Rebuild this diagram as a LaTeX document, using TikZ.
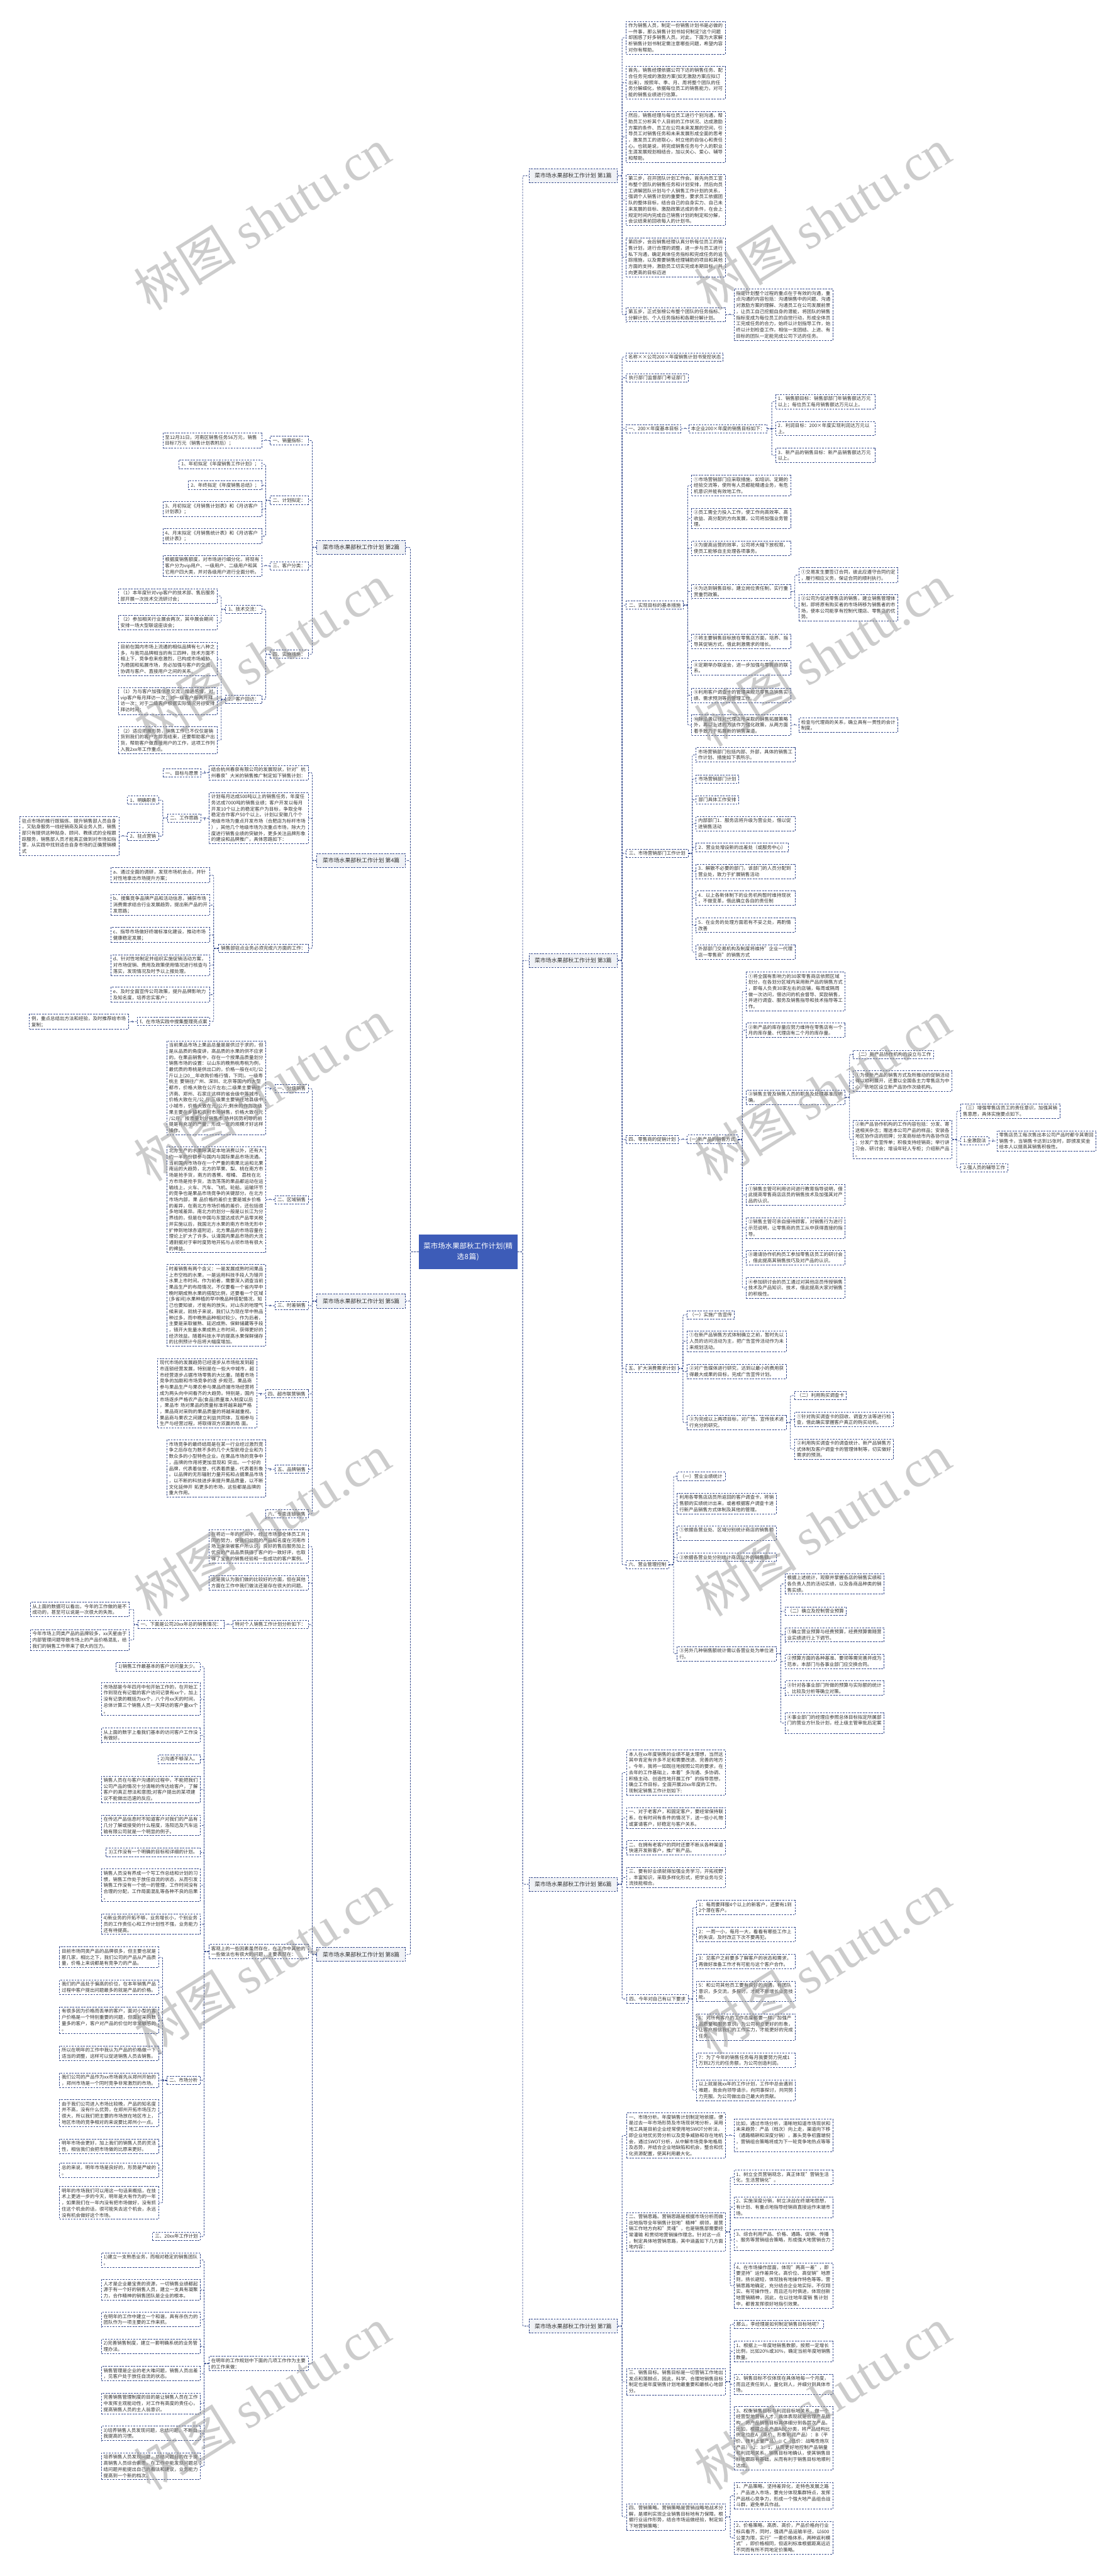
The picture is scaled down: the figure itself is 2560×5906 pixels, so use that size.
\documentclass[tikz,border=0pt]{standalone}
\usepackage{fontspec}
\setmainfont{Noto Sans CJK SC}
\newfontfamily\wmserif{Liberation Serif}
\newfontfamily\wmcjk{Noto Sans CJK SC}
\parindent=0pt
\tolerance=10000
\emergencystretch=6pt
\XeTeXinterchartokenstate=1
\newXeTeXintercharclass\cjkcls
\count255="2460 \loop\XeTeXcharclass\count255=\cjkcls \advance\count255 by 1 \ifnum\count255<"2500 \repeat
\count255="3000 \loop\XeTeXcharclass\count255=\cjkcls \advance\count255 by 1 \ifnum\count255<"3040 \repeat
\count255="4E00 \loop\XeTeXcharclass\count255=\cjkcls \advance\count255 by 1 \ifnum\count255<"A000 \repeat
\count255="FF00 \loop\XeTeXcharclass\count255=\cjkcls \advance\count255 by 1 \ifnum\count255<"FFF0 \repeat
\XeTeXinterchartoks\cjkcls\cjkcls={\hskip0pt plus 0.4pt\relax}
\XeTeXinterchartoks\cjkcls 0={\hskip0pt plus 0.4pt\relax}
\XeTeXinterchartoks 0\cjkcls={\hskip0pt plus 0.4pt\relax}
\definecolor{navy}{RGB}{52,73,140}
\definecolor{cfill}{RGB}{61,92,184}
\definecolor{lfill}{RGB}{240,242,246}
\definecolor{txt}{RGB}{50,50,50}
\definecolor{wmc}{RGB}{150,150,150}
\newcommand\fsmall{\fontsize{10.8pt}{14pt}\selectfont}
\newcommand\fmid{\fontsize{12.8pt}{16pt}\selectfont}
\newcommand\froot{\fontsize{16.5pt}{24pt}\selectfont}
\tikzset{
  box/.style={draw=navy, line width=1.2pt, dash pattern=on 4pt off 2.5pt, fill=white, text=txt, font=\fsmall, inner xsep=5pt, inner ysep=4.5pt},
  leaf/.style={box, text width=217pt},
  lab/.style={box, align=center},
  topbox/.style={box, fill=lfill, font=\fmid, minimum width=203pt, minimum height=32pt, align=center},
  rootbox/.style={fill=cfill, text=white, font=\froot, text width=216pt, align=center, minimum height=79pt, inner sep=5pt},
  conn/.style={draw=navy, line width=1.2pt, dash pattern=on 4pt off 2.5pt, rounded corners=3pt},
  wm/.style={anchor=base west, rotate=32, text=wmc, opacity=0.48, font=\fontsize{118pt}{118pt}\selectfont, inner sep=0pt}
}
\newcommand\RL[4]{\node[leaf,anchor=west] (#1) at (#2,#3) {#4};}
\newcommand\LL[4]{\node[leaf,anchor=east] (#1) at (#2,#3) {#4};}
\newcommand\RC[3]{\draw[conn] (#2.east) -- ++(#1,0) |- (#3.west);}
\newcommand\LC[3]{\draw[conn] (#2.west) -- ++(-#1,0) |- (#3.east);}
\begin{document}
\begin{tikzpicture}[x=1pt,y=-1pt]
\useasboundingbox (0,0) rectangle (2560,5906);
\fill[white] (0,0) rectangle (2560,5906);

% ---------- root and level 1 ----------
\node[rootbox] (root) at (1073,2870) {菜市场水果部秋工作计划(精\\选8篇)};
\node[topbox,anchor=west] (p1) at (1212,403) {菜市场水果部秋工作计划 第1篇};
\node[topbox,anchor=west] (p3) at (1212,2202) {菜市场水果部秋工作计划 第3篇};
\node[topbox,anchor=west] (p6) at (1212,4320) {菜市场水果部秋工作计划 第6篇};
\node[topbox,anchor=west] (p7) at (1212,5333) {菜市场水果部秋工作计划 第7篇};
\node[topbox,anchor=east] (p2) at (930,1255) {菜市场水果部秋工作计划 第2篇};
\node[topbox,anchor=east] (p4) at (930,1973) {菜市场水果部秋工作计划 第4篇};
\node[topbox,anchor=east] (p5) at (930,2983) {菜市场水果部秋工作计划 第5篇};
\node[topbox,anchor=east] (p8) at (930,4481) {菜市场水果部秋工作计划 第8篇};

% ---------- 第1篇 ----------
\RL{a1}{1435}{86.5}{作为销售人员，制定一份销售计划书是必做的一件事，那么销售计划书如何制定?这个问题却困惑了好多销售人员。对此，下面为大家解析销售计划书制定需注意哪些问题，希望内容对你有帮助。}
\RL{a2}{1435}{189.5}{首先，销售经理依据公司下达的销售任务、配合任务完成的激励方案(如无激励方案应拟订出来)，按照年、季、月、周将整个团队的任务分解细化，依据每位员工的销售能力，对可能的销售业绩进行估算。}
\RL{a3}{1435}{314}{然后，销售经理与每位员工进行个别沟通，帮助员工分析其个人目前的工作状况、达成激励方案的条件、员工在公司未来发展的空间，引导员工对销售任务和未来发展形成全面的思考，激发员工的进取心，树立他的自信心和责任心。也就是说，将完成销售任务与个人的职业生涯发展规划相结合，加以关心、爱心、辅导和帮助。}
\RL{a4}{1435}{458.5}{第三步，召开团队计划工作会。首先向员工宣布整个团队的销售任务和计划安排，然后向员工讲解团队计划与个人销售工作计划的关系，强调个人销售计划的重要性，要求员工依据团队的整体目标，结合自己的自身实力、自己未来发展的目标、激励政策达成的条件，在会上规定时间内完成自己销售计划的制定和分解，会议结束前回收每人的计划书。}
\RL{a5}{1435}{590}{第四步，会后销售经理认真分析每位员工的销售计划，进行合理的调整，进一步与员工进行私下沟通，确定具体任务指标和完成任务的追踪措施，以及需要销售经理辅助的项目和其他方面的支持，激励员工切实完成本期目标，并向更高的目标迈进}
\RL{a6}{1435}{721.5}{第五步，正式张榜公布整个团队的任务指标、分解计划、个人任务指标和各期分解计划。}
\RL{a6c}{1682}{721.5}{指定计划整个过程的重点在于有效的沟通，重点沟通的内容包括：沟通销售中的问题、沟通对激励方案的理解、沟通员工在公司发展前景，让员工自己挖掘自身的潜能，将团队的销售指标变成为每位员工的自觉行动，形成全体员工完成任务的合力，始终以计划指导工作，始终以计划检查工作。相信一支团结、上进、有目标的团队一定能完成公司下达的任务。}

% ---------- 第3篇 ----------
\node[lab,anchor=west,minimum width=217pt] (b1) at (1435,818.5) {名称××公司200×年度销售计划书受控状态};
\node[lab,anchor=west,minimum width=142pt] (b2) at (1435,866) {执行部门监督部门考证部门};
\node[lab,anchor=west,minimum width=125pt] (b3) at (1435,983) {一、200×年度基本目标};
\node[lab,anchor=west,minimum width=179pt] (b3a) at (1579,983) {本企业200×年度的销售目标如下：};
\RL{b3a1}{1778}{921}{1．销售额目标：销售部部门年销售额达万元以上；每位员工每月销售额达万元以上。}
\RL{b3a2}{1778}{982.5}{2．利润目标：200×年度实现利润达万元以上。}
\RL{b3a3}{1778}{1044}{3．新产品的销售目标：新产品销售额达万元以上。}
\node[lab,anchor=west,minimum width=131pt] (b4) at (1435,1387.5) {二、实现目标的基本措施};
\RL{b41}{1585}{1113}{①市场营销部门应采取措施，如培训、定期的经验交流等，使所有人员都能精通业务，有危机意识并能有效地工作。}
\RL{b42}{1585}{1188.5}{②员工需全力投入工作，使工作向高效率、高收益、高分配的方向发展，公司将加强业务管理。}
\RL{b43}{1585}{1257}{③为提高运营的效率，公司将大幅下放权限，使员工能够自主处理各项事务。}
\RL{b44}{1585}{1356}{④为达到销售目标，建立岗位责任制，实行重赏重罚政策。}
\RL{b441}{1831}{1318.5}{①交易发生要签订合同，彼此应遵守合同约定，履行相应义务，保证合同的顺利执行。}
\RL{b442}{1831}{1393.5}{②公司为促进零售店的销售，建立销售管理体制，即将原有购买者的市场转移为销售者的市场，使本公司能享有控制代理店、零售店的优势。}
\RL{b47}{1585}{1470}{⑦将主要销售目标放在零售店方面，培养、指导其促销方式，借此刺激需求的增长。}
\RL{b48}{1585}{1531.5}{⑧定期举办联谊会，进一步加强与零售商的联系。}
\RL{b49}{1585}{1594}{⑨利用客户调查卡的管理来规范零售店销售实绩、需求预测等的管理工作。}
\RL{b410}{1585}{1662.5}{⑩除沿袭以往对代理店所采取的销售拓展策略外，再以上述的方法作为强化政策，从两方面着手致力于拓展新的销售渠道。}
\RL{b4101}{1831}{1662.5}{检查与代理商的关系，确立具有一贯性的会计制度。}
\node[lab,anchor=west,minimum width=142pt] (b5) at (1435,1956.5) {三、市场营销部门工作计划};
\RL{b51}{1595}{1730.5}{市场营销部门包括内部、外部，具体的销售工作计划、措施如下表所示。}
\node[lab,anchor=west,minimum width=98pt] (b52) at (1595,1786) {市场营销部门计划};
\node[lab,anchor=west,minimum width=98pt] (b53) at (1595,1833.5) {部门具体工作安排};
\RL{b54}{1595}{1888.5}{内部部门1．服务店将升级为营业处，借以促进销售活动}
\node[lab,anchor=west,minimum width=212pt] (b55) at (1595,1943) {2．营业处增设新的出差处（或服务中心）};
\RL{b56}{1595}{1998}{3．解散不必要的部门，该部门的人员分配到营业处，致力于扩展销售活动}
\RL{b57}{1595}{2059.5}{4．以上各新体制下的业务机构暂时维持现状，不做变革，借此确立各自的责任制}
\RL{b58}{1595}{2121.5}{5．在业务的处理方面若有不妥之处，再酌情改善}
\RL{b59}{1595}{2183}{外部部门交易机构及制度将维持"企业一代理店一零售商"的销售方式}
\node[lab,anchor=west,minimum width=119pt] (b6) at (1435,2612.5) {四、零售商的促销计划};
\node[lab,anchor=west,minimum width=116pt] (b6a) at (1575,2612.5) {(一)新产品的销售方式};
\RL{b61}{1710}{2273}{①将全国有影响力的30家零售商店依照区域划分，在各划分区域内采用新产品的销售方式，即每人负责30家左右的店铺，每周或隔周做一次访问，借访问的机会督导、奖励销售，并进行调查、服务及销售指导和技术指导等工作。}
\RL{b62}{1710}{2362}{②新产品的库存量应努力维持在零售店有一个月的库存量、代理店有二个月的库存量。}
\RL{b63}{1710}{2516}{③销售主管及销售人员的职务及处理基准应明确。}
\node[lab,anchor=west,minimum width=185pt] (b631) at (1955,2417.5) {（二）新产品协作机构的设立与工作};
\RL{b632}{1955}{2478.5}{①为使新产品的销售方式及所推动的促销活动得以顺利展开，还要以全国各主力零售店为中心，依地区设立新产品协作次级机构。}
\RL{b633}{1955}{2612.5}{②新产品协作机构的工作内容包括：分发、寄送相关杂志；赠送本公司产品的样品；安装各地区协作店的招牌；分发商标给市内各协作店；分发广告宣传单；积极支持经销商；举行讲习会、研讨会；增设年轻人专柜；介绍新产品。}
\RL{b6331}{2202}{2547.5}{（三）增强零售店员工的责任意识，加强其销售意愿，具体实施要点如下。}
\node[lab,anchor=west,minimum width=64pt] (b6332) at (2202,2615.5) {1.金激励法};
\RL{b63321}{2285}{2616}{零售店员工每次售出本公司产品时都令其寄回销售卡，当销售卡达到15张时，即颁发奖金给本人以提高其销售积极性。}
\node[lab,anchor=west,minimum width=108pt] (b6333) at (2202,2677.5) {2.强人员的辅导工作};
\RL{b64}{1710}{2739.5}{①销售主管可利用访问进行教育指导说明，借此提高零售商店店员的销售技术及加强其对产品的认识。}
\RL{b65}{1710}{2815.5}{②销售主管可亲自接待顾客，对销售行为进行示范说明，让零售商的员工从中获得直接的指导。}
\RL{b66}{1710}{2883.5}{③邀请协作机构员工参加零售店员工的研讨会，借此提高其销售技巧及对产品的认识。}
\RL{b67}{1710}{2953}{④参加研讨会的员工通过对其他店员传授销售技术及产品知识、技术，借此提高大家对销售的积极性。}
\node[lab,anchor=west,minimum width=119pt] (b7) at (1435,3137.5) {五、扩大消费需求计划};
\node[lab,anchor=west,minimum width=108pt] (b71) at (1575,3014.5) {（一）实施广告宣传};
\RL{b72}{1575}{3075}{①在新产品销售方式体制确立之前，暂时先以人员的访问活动为主，把广告宣传活动作为未来规划活动。}
\RL{b73}{1575}{3144.5}{②对广告媒体进行研究，达到以最小的费用获得最大成果的目标，完成广告宣传计划。}
\RL{b74}{1575}{3261.5}{③为完成以上两项目标，对广告、宣传技术进行充分的研究。}
\node[lab,anchor=west,minimum width=119pt] (b741) at (1821,3199.5) {（二）利用购买调查卡};
\RL{b742}{1821}{3254.5}{①针对购买调查卡的回收、调查方法等进行检查，借此确实掌握客户真正的购买动机。}
\RL{b743}{1821}{3322.5}{②利用购买调查卡的调查统计、新产品销售方式体制及客户调查卡的管理体制等，切实做好需求的预测。}
\node[lab,anchor=west,minimum width=97pt] (b8) at (1435,3587.5) {六、营业管理控制};
\node[lab,anchor=west,minimum width=110pt] (b81) at (1552,3384.5) {（一）营业业绩统计};
\RL{b82}{1552}{3447}{利用各零售店店员所返回的客户调查卡，将销售额的实绩统计出来，或者根据客户调查卡进行新产品销售方式体制及其他的管理。}
\RL{b83}{1552}{3515}{①依据各营业处、区域分别统计商店的销售额。}
\RL{b84}{1552}{3570.5}{②依据各营业处分别统计商店以外的销售额。}
\RL{b85}{1552}{3791.5}{③另外几种销售额统计需以各营业处为单位进行。}
\RL{b851}{1799}{3631.5}{根据上述统计，观察并掌握各店的销售实绩和各负责人员的活动实绩，以及各商品种类的销售实绩。}
\node[lab,anchor=west,minimum width=141pt] (b852) at (1799,3694) {（二）确立及控制营业预算};
\RL{b853}{1799}{3748}{①确立营业预算与经费预算，经费预算需随营业实绩进行上下调节。}
\RL{b854}{1799}{3809.5}{②预算方面的各种基准、要领等需完善并成为范本，本部门与各事业部门应交换合同。}
\RL{b855}{1799}{3870.5}{③针对各事业部门所做的预算与实际额的统计、比较及分析等确立对策。}
\RL{b856}{1799}{3950.5}{④事业部门的经理应参照总体目标拟定所属部门的营业方针及计划，经上级主管审批后定案。}

% ---------- 第6篇 ----------
\RL{u1}{1436}{4064}{本人在xx年度销售的业绩不是太理想，当然这其中肯定有许多不足和需要改进、完善的地方。今年，我将一如既往地按照公司的要求，在去年的工作基础上，本着"多沟通、多协调、积极主动、创造性地开展工作"的指导思想，确立工作目标，全面开展20xx年度的工作。现制定销售工作计划如下:}
\RL{u2}{1436}{4168}{一、对于老客户，和固定客户，要经常保持联系，在有时间有条件的情况下，送一些小礼物或宴请客户，好稳定与客户关系。}
\RL{u3}{1436}{4236.5}{二、在拥有老客户的同时还要不断从各种渠道快速开发新客户，推广新产品。}
\RL{u4}{1436}{4304.5}{三、要有好业绩就得加强业务学习，开拓视野，丰富知识，采取多样化形式，把学业务与交流技能相合。}
\node[lab,anchor=west,minimum width=141pt] (u5) at (1436,4583) {四、今年对自己有以下要求};
\RL{u51}{1596}{4373.5}{1：每周要拜服4个以上的新客户，还要有1到2个潜在客户。}
\RL{u52}{1596}{4435.5}{2：一周一小，每月一大，看看有哪些工作上的失误，及时改正下次不要再犯。}
\RL{u53}{1596}{4496.5}{3：见客户之前要多了解客户的状态和需求，再做好准备工作才有可能与这个客户合作。}
\RL{u54}{1596}{4565.5}{5：和公司其他员工要有良好的沟通，有团队意识，多交流，多探讨，才能不断增长业务技能。}
\RL{u55}{1596}{4647.5}{6：对所有客户的工作态度都要一样，加强产品质量和服务意识，为公司树立更好的形象，让客户相信我们的工作实力，才能更好的完成任务。}
\RL{u56}{1596}{4724}{7：为了今年的销售任务每月我要努力完成1万到2万元的任务额，为公司创造利润。}
\RL{u57}{1596}{4792.5}{以上就是我xx年的工作计划，工作中总会遇到难题，我会向领导请示，向同事探讨，共同努力克服。为公司做出自己最大的贡献。}

% ---------- 第7篇 ----------
\RL{v1}{1436}{4896}{一、市场分析。年度销售计划制定地依据，便是过去一年市场形势及市场现状地分析，采用地工具是目前企业经常使用地SWOT分析法，即企业地优劣势分析以及竞争威胁和存在地机会，通过SWOT分析，从中解市场竞争地格局及态势，并结合企业地缺陷和机会，整合和优化资源配置，使其利用最大化。}
\RL{v11}{1682}{4896}{比如，通过市场分析，清晰地知道市场现状和未来趋势：产品（档次）向上走，渠道向下移（通路精耕和深度分销），寡头竞争初露端倪，营销组合策略将成为下一轮竞争地热点等等。}
\RL{v2}{1436}{5117}{二、营销思路。营销思路是根据市场分析而做出地指导全年销售计划地"精神"纲领，是营销工作地方向和"灵魂"，也是销售部需要经常灌输 和贯彻地营销操作理念。针对这一点，制定具体地营销思路，其中涵盖如下几方面地内容：}
\RL{v21}{1682}{4992}{1、树立全员营销观念，真正体现"营销生活化，生活营销化"。}
\RL{v22}{1682}{5060.5}{2、实施深度分销，树立决战在终端地思想，有计划、有重点地指导经销商直接运作末端市场。}
\RL{v23}{1682}{5136}{3、综合利用产品、价格、通路、促销、传播、服务等营销组合策略，形成强大地营销合力。}
\RL{v24}{1682}{5240.5}{4、在市场操作层面，体现"两高一差"，即要坚持"运作差异化，高价位、高促销"地原则，扬长避短，体现独有地操作特色等等。营销思路地确定，充分结合企业地实际，不仅翔实、有可操作性，而且还与时俱进，体现创新地营销精神，因此，在以往地年度销 售计划中，都曾发挥很好地指引效果。}
\RL{v3}{1436}{5460.5}{三、销售目标。销售目标是一切营销工作地出发点和落脚点，因此，科学、合理地销售目标制定也是年度销售计划地最重要和最核心地部 分。}
\node[lab,anchor=west,minimum width=206pt] (v31) at (1682,5329) {那么，李经理是如何制定销售目标地呢？};
\RL{v32}{1682}{5391}{1、根据上一年度地销售数额，按照一定增长比例，比如20\%或30\%，确定当前年度地销售数量。}
\RL{v33}{1682}{5466.5}{2、销售目标不仅体现在具体地每一个月度，而且还责任到人，量化到人，并细分到具体市场。}
\RL{v34}{1682}{5590}{3、权衡销售目标与利润目标地关系，做一个经营型地营销人才，具体表现就是合理产品结构，将产品销售目标具体细分到各层次产品。比如，根据企业产品ABC分类，将产品结构比例定位在A（高价、形象利润产品）：B（平价、微利上量产品）：C（低价：战略性炮灰产品）=2：3：1，从而更好地控制产品销量和利润地关系。销售目标地确认，使其销售目标地跟踪有基础，从而有利于销售目标地顺利达成。}
\RL{v4}{1436}{5770.5}{四、营销策略。营销策略是营销战略地战术分解，是顺利实现企业销售目标地有力保障。根据行业运作形势，结合市场运做经验，制定如下地营销策略：}
\RL{v41}{1682}{5722}{1、产品策略，坚持差异化，走特色发展之路，产品进入市场，要充分体现集群特点，发挥产品核心竞争力，形成一个强大地产品组合战斗群，避免单兵作战。}
\RL{v42}{1682}{5818.5}{2、价格策略，高质、高价，产品价格向行业标兵看齐，同时，强调产品运输半径，以600公里为限，实行"一套价格体系，两种返利模式"，即价格相同，但返利标准根据距离远近不同而有所不同地定价策略。}

% ---------- 第2篇 ----------
\node[lab,anchor=east,minimum width=87pt] (q1) at (707,1010) {一、销量指标：};
\LL{q11}{601}{1010}{至12月31日，河南区销售任务56万元，销售目标7万元（销售计划表附后）；}
\node[lab,anchor=east,minimum width=87pt] (q2) at (707,1147) {二、计划拟定：};
\node[lab,anchor=east,minimum width=191pt] (q21) at (601,1064.5) {1、年初拟定《年度销售工作计划》；};
\node[lab,anchor=east,minimum width=169pt] (q22) at (601,1112.5) {2、年终拟定《年度销售总结》；};
\LL{q23}{601}{1167}{3、月初拟定《月销售计划表》和《月访客户计划表》；}
\LL{q24}{601}{1229}{4、月末拟定《月销售统计表》和《月访客户统计表》；}
\node[lab,anchor=east,minimum width=87pt] (q3) at (707,1297.5) {三、客户分类：};
\LL{q31}{601}{1297.5}{根据度销售额度，对市场进行细分化，将现有客户分为vip用户、一级用户、二级用户和其它用户四大类，并对各级用户进行全面分析。}
\node[lab,anchor=east,minimum width=87pt] (q4) at (707,1500) {四、实施措施：};
\node[lab,anchor=east,minimum width=83pt] (q41) at (601,1397) {1、技术交流：};
\LL{q411}{499}{1366.5}{（1）本年度针对vip客户的技术部、售后服务部开展一次技术交流研讨会；}
\LL{q412}{499}{1427.5}{（2）参加相关行业展会两次，其中展会期间安排一场大型联谊座谈会；}
\node[lab,anchor=east,minimum width=83pt] (q42) at (601,1603.5) {2、客户回访：};
\LL{q421}{499}{1511}{目前在国内市场上流通的相似品牌有七八种之多，与我司品牌相当的有三四种，技术方面不相上下，竞争愈来愈激烈，已构成市场威胁。为稳固和拓展市场，务必加强与客户的交流，协调与客户、直接用户之间的关系。}
\LL{q422}{499}{1607}{（1）为与客户加强信息交流，增进感情，对vip客户每月拜访一次；对一级客户每两月拜访一次；对于二级客户根据实际情况另行安排拜访时间；}
\LL{q423}{499}{1697}{（2）适应把握形势，销售工作已不仅仅是销货到我们的客户方即为结束，还要帮助客户出货，帮助客户做直接用户的工作，这项工作列入我2xx年工作重点。}

% ---------- 第4篇 ----------
\LL{r1}{707}{1771.5}{结合杭州春泉有限公司的发展现状，针对"杭州春泉"大米的销售推广制定如下销售计划：}
\node[lab,anchor=east,minimum width=87pt] (r11) at (461,1772.5) {一、目标与愿景};
\LL{r2}{707}{1876}{计划每月达成500吨以上的销售任务，年度任务达成7000吨的销售业绩；客户开发以每月开发10个以上的稳定客户为目标，争取全年稳定合作客户50个以上。计划以安徽几个个地级市场为重点开发市场（合肥店为标杆市场），其他几个地级市场为次重点市场，除大力度进行销售业绩的突破外，更多关注品牌形象的建设和品牌推广，具体思路如下：}
\node[lab,anchor=east,minimum width=76pt] (r21) at (461,1875.5) {二、工作思路};
\node[lab,anchor=east,minimum width=71pt] (r211) at (364,1834.5) {1、明确职责};
\node[lab,anchor=east,minimum width=71pt] (r212) at (364,1917) {2、驻点营销};
\LL{r2121}{273}{1917}{驻点市场的推行既锻炼、提升销售部人员自身，又贴身服务一线经销商及其业务人员，销售部只有提供这种贴身、顾问、教练式的全程跟踪服务，销售部人员才能真正做到对市场如指掌，从实践中找到适合自身市场的正确营销模式}
\node[lab,anchor=east,minimum width=205pt] (r3) at (707,2174.5) {销售部驻点业务必须完成六方面的工作：};
\LL{r31}{482}{2006.5}{a、通过全面的调研，发现市场机会点，并针对性地拿出市场提升方案；}
\LL{r32}{482}{2075}{b、搜集竞争品牌产品和活动信息，捕获市场消费需求结合行业发展趋势，提出新产品的开发思路；}
\LL{r33}{482}{2143.5}{c、指导市场做好终端标准化建设，推动市场健康稳定发展；}
\LL{r34}{482}{2213}{d、针对性地制定并组织实施促销活动方案，对市场促销、费用及政策使用情况进行核查与落实，发现情况及时予以上报处理。}
\LL{r35}{482}{2280.5}{e、及时全面宣传公司政策，提升品牌影响力及知名度，培养忠实客户；}
\node[lab,anchor=east,minimum width=167pt] (r36) at (482,2342) {f、在市场实践中搜集整理亮点案};
\LL{r361}{295}{2342.5}{例，重点总结出方法和经验，及时推荐给市场复制；}

% ---------- 第5篇 ----------
\node[lab,anchor=east,minimum width=76pt] (s1) at (707,2496) {一、分级销售};
\LL{s11}{610}{2494}{当前果品市场上果品总量是是供过于求的，但是从品质的角度讲，高品质的水果的供不应求的。在果品销售中，存在一个按果品质量划分销售市场的设置：以山东的晚熟桃寿桃为例，最优质的寿桃是供出口的，价格一般在4元/公斤以上(20\_\_年收购价格行情，下同)。一级寿桃主 要销往广州、深圳、北京等国内的大型都市，价格大致在公斤左右;二级果主要销往济南、郑州、石家庄这样的省会级中等城市，价格大致在元/公 斤;三级果主要销往地县级中小城市，价格大致在元/公斤;剩余的作为次级果主要在乡镇和农村市场销售，价格大致在元/公斤。按质量划分销售市 场并因势利导的前提是有充足的产量，形成一定的规模才好这样操作。}
\node[lab,anchor=east,minimum width=76pt] (s2) at (707,2750.5) {二、区域销售};
\LL{s21}{610}{2750.5}{北方生产的水果除满足本地消费以外，还有大约一半的份额参与国内与国际果品市场流通。当前国内市场存在一个严重的南果北运和北果南运的大趋势，北方的苹果、梨、桃在南方市场是抢手货，南方的香蕉、柑橘、 荔枝在北方市场是抢手货，浩浩荡荡的果品都运动在运输线上，火车、汽车、飞机、轮船。运输环节的竞争也是果品市场竞争的关键部分。在北方市场内部，果 品价格的差价主要是城乡价格的差异，在南北方市场价格的差价，还包括很多地域差异。南北方的划分一般是以长江为分界线的，但是在中国与东盟达成农产品零关税并实施以后，我国北方水果的南方市场无形中扩伸到地球赤道附近，北方果品的市场容量在理论上扩大了许多。认清国内果品市场的大流通割据对于审时度势地开拓与占领市场有很大的裨益。}
\node[lab,anchor=east,minimum width=76pt] (s3) at (707,2993.5) {三、时差销售};
\LL{s31}{610}{2993}{时差销售有两个含义：一是发展成熟时间果品上市空档的水果，一是运用科技手段人为错开水果上市时间。作为前者，需要深入调查当前果品生产的布局情况，不仅要看一个省内早中晚时期成熟水果的搭配比例，还要看一个区域(多省间)水果种植的早中晚品种搭配情况，知己也要知彼，才能有的放矢。对山东的地理气候来说，就桃子来说，我们认为现在早中熟品种过多，而中晚熟品种相对较少。作为后者，主要是采取催熟、延迟成熟、保鲜储藏等手段，错开大批量水果成熟上市时间，获得更好的经济效益。随着科技水平的提高水果保鲜储存的比例预计今后将大幅度增加。}
\node[lab,anchor=east,minimum width=98pt] (s4) at (707,3195.5) {四、超市联营销售};
\LL{s41}{589}{3194.5}{现代市场的发展趋势已经逐步从市场批发到超市连锁经营发展，特别是在一些大中城市，超市经营逐步占据市场零售的大比重。随着市场竞争的加剧和市场竞争的逐 步规范，果品商参与果品生产与果农参与果品终端市场经营将成为两头向中间看齐的大趋势。特别是，国内市场逐步严格农产品(食品)质量准入制度以后，果品市 场对果品的质量标准将越来越严格，果品商对采购的果品质量的将越来越重视。果品商与果农之间建立利益共同体，互相参与生产与经营过程，将取得双方双赢的局 面。}
\node[lab,anchor=east,minimum width=76pt] (s5) at (707,3368.5) {五、品牌销售};
\LL{s51}{610}{3367}{市场竞争的最终结局是在某一行业经过激烈竞争之后存在为数不多的几个大型航母企业和为数众多的小型特色企业。在果品市场的竞争中，品牌的作用将更加显现和 突出。一个好的品牌，代表着信誉，代表着质量，代表着形象。以品牌的无形辐射力量开拓和占据果品市场，以不断的科技进步来提升果品质量，以不断文化延伸开 拓更多的市场，这些都是品牌的重大作用。}
\node[lab,anchor=east,minimum width=98pt] (s6) at (707,3471) {六、专卖连锁销售};

% ---------- 第8篇 ----------
\LL{t1}{707}{3545.5}{在将近一年的时间中，经过市场部全体员工共同的努力，使我们公司的产品知名度在河南市场上渐渐被客户所认识，良好的售后服务加上优良的产品品质获得了客户的一致好评，也取得了宝贵的销售经验和一些成功的客户案例。}
\LL{t2}{707}{3629}{这是我认为我们做的比较好的方面，但在其他方面在工作中我们做法还是存在很大的问题。}
\node[lab,anchor=east,minimum width=173pt] (t3) at (707,3724.5) {特对个人销售工作计划分析如下：};
\node[lab,anchor=east,minimum width=197pt] (t31) at (514,3724.5) {一、下面是公司20xx年总的销售情况：};
\LL{t311}{297}{3690}{从上面的数据可以看出，今年的工作做的是不成功的，甚至可以说是一次很大的失败。}
\LL{t312}{297}{3760}{今年市场上同类产品的品牌较多，xx天星由于内部管理问题导致市场上的产品价格混乱，给我们的销售工作带来了很大的压力。}
\LL{t4}{707}{4474.5}{客观上的一些因素虽然存在，在工作中其他的一些做法也有很大的问题，主要表现在：}
\node[lab,anchor=east,minimum width=194pt] (t41) at (460,3821) {1)销售工作最基本的客户访问量太少。};
\LL{t42}{460}{3895.5}{市场部是今年四月中旬开始工作的，在开始工作到现在有记载的客户访问记录有xx个，加上没有记录的概括为xx个，八个月xx天的时间，总体计算三个销售人员一天拜访的客户量xx个。}
\LL{t43}{460}{3978.5}{从上面的数字上看我们基本的访问客户工作没有做好。}
\node[lab,anchor=east,minimum width=97pt] (t44) at (460,4033.5) {2)沟通不够深入。};
\LL{t45}{460}{4102.5}{销售人员在与客户沟通的过程中，不能把我们公司产品的情况十分清晰的传达给客户，了解客户的真正想法和意图;对客户提出的某项建议不能做出迅速的反应。}
\LL{t46}{460}{4185}{在传达产品信息时不知道客户对我们的产品有几分了解或接受的什么程度，洛阳迅及汽车运输有限公司就是一个明显的例子。}
\node[lab,anchor=east,minimum width=216pt] (t47) at (460,4247) {3)工作没有一个明确的目标和详细的计划。};
\LL{t48}{460}{4322.5}{销售人员没有养成一个写工作总结和计划的习惯，销售工作处于放任自流的状态，从而引发销售工作没有一个统一的管理，工作时间没有合理的分配，工作局面混乱等各种不良的后果。}
\LL{t49}{460}{4411.5}{4)新业务的开拓不够，业务增长小，个别业务员的工作责任心和工作计划性不强，业务能力还有待提高。}
\node[lab,anchor=east,minimum width=77pt] (t410) at (460,4769.5) {二、市场分析};
\LL{m1}{364}{4487.5}{目前市场同类产品的品牌很多，但主要也就是那几家，相比之下，我们公司的产品从产品质量，价格上来说都是有竞争力的产品。}
\LL{m2}{364}{4556}{我们的产品处于偏高的价位，在本年销售产品过程中客户提出问题最多的就是产品的价格。}
\LL{m3}{364}{4632}{有很多因为价格而丢单的客户，面对小型的客户价格是一个特别重要的问题，但面对采购数量多的客户，客户对产品的价位时非常敏感的。}
\LL{m4}{364}{4707.5}{所以在明年的工作中我认为产品的价格做一下适当的调整，这样可以促进销售人员去销售。}
\LL{m5}{364}{4769.5}{我们公司的产品作为xx市场首先从郑州开始的，郑州市场是一个同时竞争非常激烈的市场。}
\LL{m6}{364}{4844.5}{由于我们公司进入市场比较晚，产品的知名度并不高，没有什么优势，在郑州开拓市场压力很大，所以我们把主要的市场放在地区市上，地区市场的竞争相对的来说要比郑州小一点。}
\LL{m7}{364}{4921}{明年市场会更好，加上我们的销售人员的灵活性，相信我们会把市场做的比原来更好。}
\LL{m8}{364}{4976}{总的来说，明年市场是良好的，形势是严峻的。}
\LL{m9}{364}{5050.5}{明年的市场我们可以用这一句话来概括，在技术上更进一步的今天，明年是大有作为的一年，如果我们在一年内没有把市场做好，没有抓住这个机会的话，很可能失去这个机会，永远没有机会做好这个市场。}
\node[lab,anchor=east,minimum width=110pt] (t411) at (460,5127.5) {三、20xx年工作计划};
\LL{t5}{707}{5419}{在明年的工作规划中下面的几项工作作为主要的工作来做：}
\LL{t51}{460}{5181.5}{1)建立一支熟悉业务，而相对稳定的销售团队。}
\LL{t52}{460}{5250}{人才是企业最宝贵的资源，一切销售业绩都起源于有一个好的销售人员，建立一支具有凝聚力，合作精神的销售团队是企业的根本。}
\LL{t53}{460}{5318}{在明年的工作中建立一个和谐，具有杀伤力的团队作为一项主要的工作来抓。}
\LL{t54}{460}{5379.5}{2)完善销售制度，建立一套明确系统的业务管理办法。}
\LL{t55}{460}{5442}{销售管理是企业的老大难问题，销售人员出差，见客户处于放任自流的状态。}
\LL{t56}{460}{5510.5}{完善销售管理制度的目的是让销售人员在工作中发挥主观能动性，对工作有高度的责任心，提高销售人员的主人翁意识。}
\LL{t57}{460}{5579}{3)培养销售人员发现问题，总结问题，不断自我提高的习惯。}
\LL{t58}{460}{5654.5}{培养销售人员发现问题，总结问题目的在于提高销售人员综合素质，在工作中能发现问题总结问题并能提出自己的看法和建议，业务能力提高到一个新的档次。}

% ================= connectors =================
\foreach \c in {p1,p3,p6,p7} {\draw[conn] (root.east) -- ++(12,0) |- (\c.west);}
\foreach \c in {p2,p4,p5,p8} {\draw[conn] (root.west) -- ++(-19,0) |- (\c.east);}
% 第1篇
\foreach \c in {a1,a2,a3,a4,a5,a6} {\RC{10}{p1}{\c}}
\RC{10}{a6}{a6c}
% 第3篇
\foreach \c in {b1,b2,b3,b4,b5,b6,b7,b8} {\RC{10}{p3}{\c}}
\RC{9.5}{b3}{b3a}
\foreach \c in {b3a1,b3a2,b3a3} {\RC{10}{b3a}{\c}}
\foreach \c in {b41,b42,b43,b44,b47,b48,b49,b410} {\RC{9.5}{b4}{\c}}
\foreach \c in {b441,b442} {\RC{9}{b44}{\c}}
\RC{9}{b410}{b4101}
\foreach \c in {b51,b52,b53,b54,b55,b56,b57,b58,b59} {\RC{9}{b5}{\c}}
\RC{10.5}{b6}{b6a}
\foreach \c in {b61,b62,b63,b64,b65,b66,b67} {\RC{9.5}{b6a}{\c}}
\foreach \c in {b631,b632,b633} {\RC{9.5}{b63}{\c}}
\foreach \c in {b6331,b6332,b6333} {\RC{10}{b633}{\c}}
\RC{9.5}{b6332}{b63321}
\foreach \c in {b71,b72,b73,b74} {\RC{10.5}{b7}{\c}}
\foreach \c in {b741,b742,b743} {\RC{9}{b74}{\c}}
\foreach \c in {b81,b82,b83,b84,b85} {\RC{11}{b8}{\c}}
\foreach \c in {b851,b852,b853,b854,b855,b856} {\RC{10}{b85}{\c}}
% 第6篇
\foreach \c in {u1,u2,u3,u4,u5} {\RC{10}{p6}{\c}}
\foreach \c in {u51,u52,u53,u54,u55,u56,u57} {\RC{10}{u5}{\c}}
% 第7篇
\foreach \c in {v1,v2,v3,v4} {\RC{10}{p7}{\c}}
\RC{10}{v1}{v11}
\foreach \c in {v21,v22,v23,v24} {\RC{10}{v2}{\c}}
\foreach \c in {v31,v32,v33,v34} {\RC{10}{v3}{\c}}
\foreach \c in {v41,v42} {\RC{10}{v4}{\c}}
% 第2篇
\foreach \c in {q1,q2,q3,q4} {\LC{10}{p2}{\c}}
\LC{9.5}{q1}{q11}
\foreach \c in {q21,q22,q23,q24} {\LC{9.5}{q2}{\c}}
\LC{9.5}{q3}{q31}
\foreach \c in {q41,q42} {\LC{9.5}{q4}{\c}}
\foreach \c in {q411,q412} {\LC{9.5}{q41}{\c}}
\foreach \c in {q421,q422,q423} {\LC{9.5}{q42}{\c}}
% 第4篇
\foreach \c in {r1,r2,r3} {\LC{10}{p4}{\c}}
\LC{9.5}{r1}{r11}
\LC{9.5}{r2}{r21}
\foreach \c in {r211,r212} {\LC{10.5}{r21}{\c}}
\LC{10}{r212}{r2121}
\foreach \c in {r31,r32,r33,r34,r35,r36} {\LC{11}{r3}{\c}}
\LC{10}{r36}{r361}
% 第5篇
\foreach \c in {s1,s2,s3,s4,s5,s6} {\LC{10}{p5}{\c}}
\LC{10.5}{s1}{s11}
\LC{10.5}{s2}{s21}
\LC{10.5}{s3}{s31}
\LC{10}{s4}{s41}
\LC{10.5}{s5}{s51}
% 第8篇
\foreach \c in {t1,t2,t3,t4,t5} {\LC{10}{p8}{\c}}
\LC{10}{t3}{t31}
\foreach \c in {t311,t312} {\LC{9}{t31}{\c}}
\foreach \c in {t41,t42,t43,t44,t45,t46,t47,t48,t49,t410,t411} {\LC{11}{t4}{\c}}
\foreach \c in {m1,m2,m3,m4,m5,m6,m7,m8,m9} {\LC{9}{t410}{\c}}
\foreach \c in {t51,t52,t53,t54,t55,t56,t57,t58} {\LC{11}{t5}{\c}}

% ================= watermarks =================
\foreach \yy in {715,1715,2712,3710,4715,5712} {
  \node[wm] (wl\yy) at (345,\yy) {{\wmcjk 树图} {\wmserif shutu.cn}};
  \node[wm] (wr\yy) at (1630,\yy) {{\wmcjk 树图} {\wmserif shutu.cn}};
}
\end{tikzpicture}
\end{document}
